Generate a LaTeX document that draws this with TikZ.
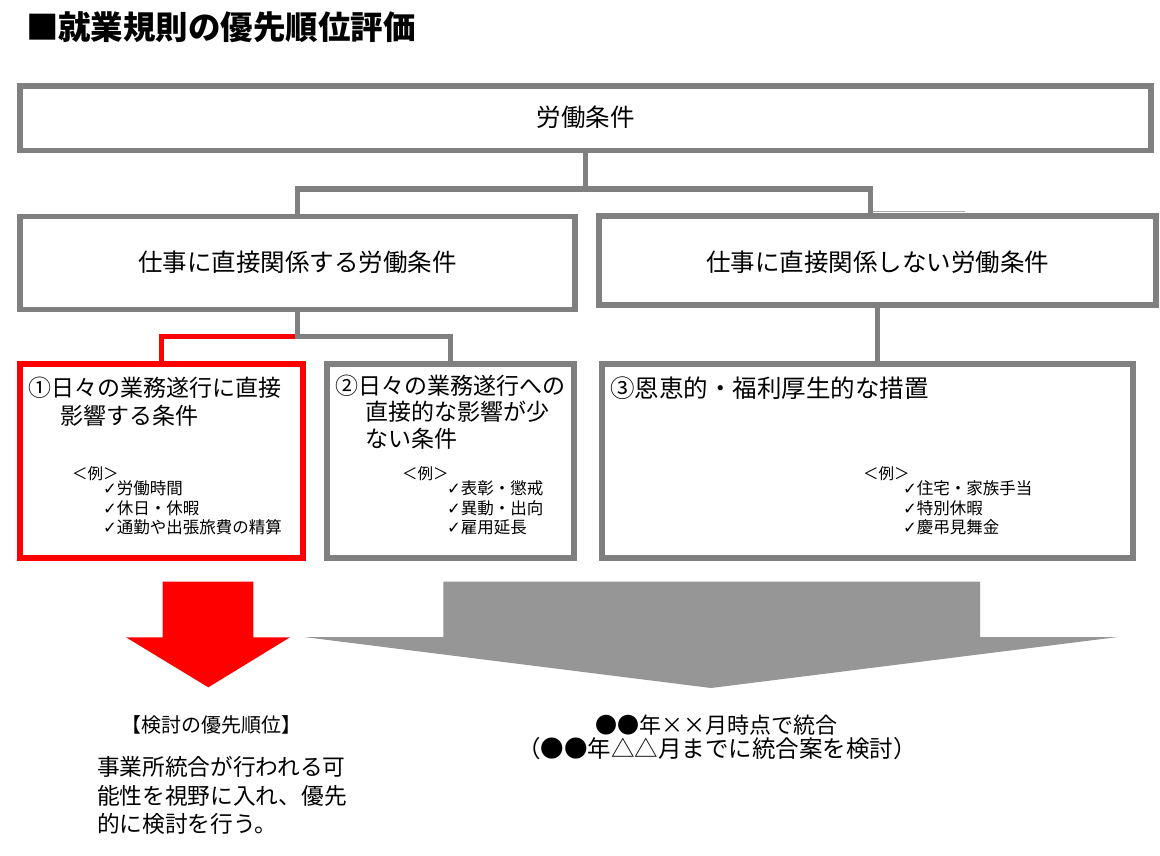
\documentclass[tikz,border=0pt]{standalone}
\usepackage{fontspec}
\setmainfont{Noto Sans CJK JP}
\newfontfamily\djvfont{DejaVu Sans}
\newcommand\ckmark{{\djvfont ✓}}
\newcommand\fsz[1]{\fontsize{#1}{#1}\selectfont}
\definecolor{bordergray}{HTML}{808080}
\definecolor{arrowgray}{HTML}{969696}
\definecolor{pptred}{HTML}{FF0000}
\tikzset{
  boxshape/.style={rectangle, draw=bordergray, line width=5.5pt, inner sep=0pt, outer sep=0pt},
  redboxshape/.style={boxshape, draw=pptred},
  conn/.style={draw=bordergray, line width=5.5pt},
  redconn/.style={draw=pptred, line width=5.5pt},
  txt/.style={inner sep=0pt, outer sep=0pt, anchor=base west},
  ctxt/.style={inner sep=0pt, outer sep=0pt, anchor=base},
  headtxt/.style={txt, font=\fsz{23}},
  extxt/.style={txt, font=\fsz{16.5}},
  exhead/.style={txt, font=\fsz{15.5}},
}
\begin{document}
\begin{tikzpicture}[x=1pt,y=-1pt]
\fill[white] (0,0) rectangle (1160,855);
\useasboundingbox (0,0) rectangle (1160,855);

% title
\node[txt, font=\fsz{32.5}\bfseries] (title) at (26,39.5) {■就業規則の優先順位評価};

% boxes
\node[boxshape, minimum width=1131pt, minimum height=64.5pt] (top) at (585.5,118.25) {};
\node[boxshape, minimum width=555pt, minimum height=93pt] (lmid) at (297.5,263) {};
\node[boxshape, minimum width=557pt, minimum height=89pt] (rmid) at (877.5,260.5) {};
\node[boxshape, minimum width=247pt, minimum height=194pt] (b2) at (450.5,461) {};
\node[boxshape, minimum width=531pt, minimum height=194pt] (b3) at (867.5,461) {};

% connectors
\coordinate (busT) at (585.5,189);
\coordinate (busL) at (297.5,189);
\coordinate (busR) at (870.5,189);
\draw[conn] (top.south) -- (busT);
\draw[conn] (lmid.north) -- (busL) -- (busR) -- (busR |- rmid.north);
\coordinate (thinA) at (873,211.7);
\coordinate (thinB) at (965,211.7);
\draw[gray!70, line width=1pt] (thinA) -- (thinB);
\coordinate (j1) at (297.5,336.7);
\node[redboxshape, minimum width=283pt, minimum height=194pt] (b1) at (161.5,461) {};
\draw[redconn] (j1) -- (j1 -| b1.north) -- (b1.north);
\draw[conn] (lmid.south) -- (j1) -- (j1 -| b2.north) -- (b2.north);
\draw[conn] (rmid.south) -- (rmid.south |- b3.north);

% box texts
\node[ctxt, font=\fsz{24.5}] (toptxt) at (585.5,126.5) {労働条件};
\node[ctxt, font=\fsz{24.5}] (lmidtxt) at (297.5,271.3) {仕事に直接関係する労働条件};
\node[ctxt, font=\fsz{24.5}] (rmidtxt) at (877.5,271.3) {仕事に直接関係しない労働条件};

\node[headtxt] (b1l1) at (28,396) {①日々の業務遂行に直接};
\node[headtxt] (b1l2) at (60,424) {影響する条件};
\node[headtxt] (b2l1) at (335,394) {②日々の業務遂行への};
\node[headtxt] (b2l2) at (365,420.5) {直接的な影響が少};
\node[headtxt] (b2l3) at (365,447) {ない条件};
\node[txt, font=\fsz{24.5}] (b3l1) at (610,397) {③恩恵的・福利厚生的な措置};

\node[exhead] (b1ex) at (72,479) {＜例＞};
\node[extxt] (b1e1) at (103,494.5) {\ckmark{}労働時間};
\node[extxt] (b1e2) at (103,514) {\ckmark{}休日・休暇};
\node[extxt] (b1e3) at (103,533.5) {\ckmark{}通勤や出張旅費の精算};

\node[exhead] (b2ex) at (402,479) {＜例＞};
\node[extxt] (b2e1) at (447,494.5) {\ckmark{}表彰・懲戒};
\node[extxt] (b2e2) at (447,514) {\ckmark{}異動・出向};
\node[extxt] (b2e3) at (447,533.5) {\ckmark{}雇用延長};

\node[exhead] (b3ex) at (863,479) {＜例＞};
\node[extxt] (b3e1) at (903,494.5) {\ckmark{}住宅・家族手当};
\node[extxt] (b3e2) at (903,514) {\ckmark{}特別休暇};
\node[extxt] (b3e3) at (903,533.5) {\ckmark{}慶弔見舞金};

% arrows
\fill[pptred] (162.7,581.7) -- (253.3,581.7) -- (253.3,637.3) -- (290,637.3) -- (208.3,687.3) -- (126,637.3) -- (162.7,637.3) -- cycle;
\fill[arrowgray] (443.3,581.7) -- (980,581.7) -- (980,637) -- (1118,637) -- (711,688) -- (304,637) -- (443.3,637) -- cycle;

% bottom texts
\node[txt, font=\fsz{20}] (prio) at (121,732.6) {【検討の優先順位】};
\node[txt, font=\fsz{22.7}] (p1) at (97,775.3) {事業所統合が行われる可};
\node[txt, font=\fsz{22.7}] (p2) at (97,804.3) {能性を視野に入れ、優先};
\node[txt, font=\fsz{22.7}] (p3) at (97,832.6) {的に検討を行う。};

\node[ctxt, font=\fsz{22}] (r1) at (716,733.4) {●●年××月時点で統合};
\node[ctxt, font=\fsz{23.5}] (r2) at (717,757) {（●●年△△月までに統合案を検討）};
\end{tikzpicture}
\end{document}
